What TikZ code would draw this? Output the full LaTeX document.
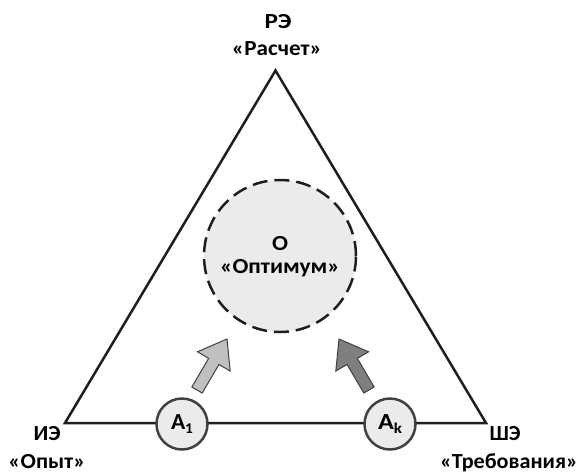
\documentclass[tikz,border=0pt]{standalone}
\usepackage{fontspec}
\usepackage{graphicx}
\setmainfont{Carlito}
\usetikzlibrary{calc}
\definecolor{lineblack}{HTML}{1E1E1E}
\definecolor{fillgray}{HTML}{EBEBEB}
\definecolor{ringgray}{HTML}{404040}
\definecolor{arrowlight}{HTML}{C0C0C0}
\definecolor{arrowdark}{HTML}{7F7F7F}
\newcommand{\wbox}[2]{\resizebox{#1}{\height}{#2}}
\begin{document}
\begin{tikzpicture}[x=1pt,y=-1pt,
  lbl/.style={font=\fontsize{21.5}{27}\selectfont\bfseries, inner sep=0pt, anchor=base},
  tri/.style={draw=lineblack, line width=2.5pt, line join=miter},
  optnode/.style={circle, draw=lineblack, fill=fillgray, line width=2.5pt,
    dash pattern=on 15pt off 7pt, minimum size=152pt, inner sep=0pt},
  anode/.style={circle, draw=ringgray, fill=fillgray, line width=2.5pt,
    minimum size=51pt, inner sep=0pt, font=\fontsize{23}{26}\selectfont\bfseries},
  fatarrow/.style={draw=ringgray, line width=1pt, line join=miter}]
\useasboundingbox (0,0) rectangle (581,472);

% triangle corners
\coordinate (top) at (275.5,70.5);
\coordinate (bl) at (65,423);
\coordinate (br) at (486,423);
\draw[tri] (top) -- (bl) -- (br) -- cycle;

% optimum circle and its text
\node[optnode] (opt) at (280,256) {};
\node[lbl] (o1) at (280,250) {\wbox{16pt}{О}};
\node[lbl] (o2) at (280,273) {\wbox{120pt}{«Оптимум»}};

% small circles on the base
\node[anode] (a1) at (182,424) {\wbox{22pt}{A\raisebox{-0.4ex}{\fontsize{15}{16}\selectfont 1}}};
\node[anode] (ak) at (390,424) {\wbox{24pt}{A\raisebox{-0.4ex}{\fontsize{15}{16}\selectfont k}}};

% vertex labels
\node[lbl] (lr1) at (278,28) {\wbox{27pt}{РЭ}};
\node[lbl] (lr2) at (277,55) {\wbox{90pt}{«Расчет»}};
\node[lbl] (li1) at (47,440) {\wbox{27pt}{ИЭ}};
\node[lbl] (li2) at (47,468) {\wbox{77pt}{«Опыт»}};
\node[lbl] (ls1) at (505,440) {\wbox{31pt}{ШЭ}};
\node[lbl] (ls2) at (509,468) {\wbox{138pt}{«Требования»}};

% fat arrows
\coordinate (s1) at (197,390);
\coordinate (t1) at (227,339);
\coordinate (b1) at ($(t1)!26pt!(s1)$);
\filldraw[fatarrow, fill=arrowlight]
  ($(s1)!6pt!90:(t1)$) -- ($(b1)!6pt!90:(t1)$) -- ($(b1)!19pt!90:(t1)$) -- (t1)
  -- ($(b1)!19pt!-90:(t1)$) -- ($(b1)!6pt!-90:(t1)$) -- ($(s1)!6pt!-90:(t1)$) -- cycle;

\coordinate (s2) at (369,390);
\coordinate (t2) at (339,339);
\coordinate (b2) at ($(t2)!26pt!(s2)$);
\filldraw[fatarrow, fill=arrowdark]
  ($(s2)!6pt!90:(t2)$) -- ($(b2)!6pt!90:(t2)$) -- ($(b2)!19pt!90:(t2)$) -- (t2)
  -- ($(b2)!19pt!-90:(t2)$) -- ($(b2)!6pt!-90:(t2)$) -- ($(s2)!6pt!-90:(t2)$) -- cycle;
\end{tikzpicture}
\end{document}
